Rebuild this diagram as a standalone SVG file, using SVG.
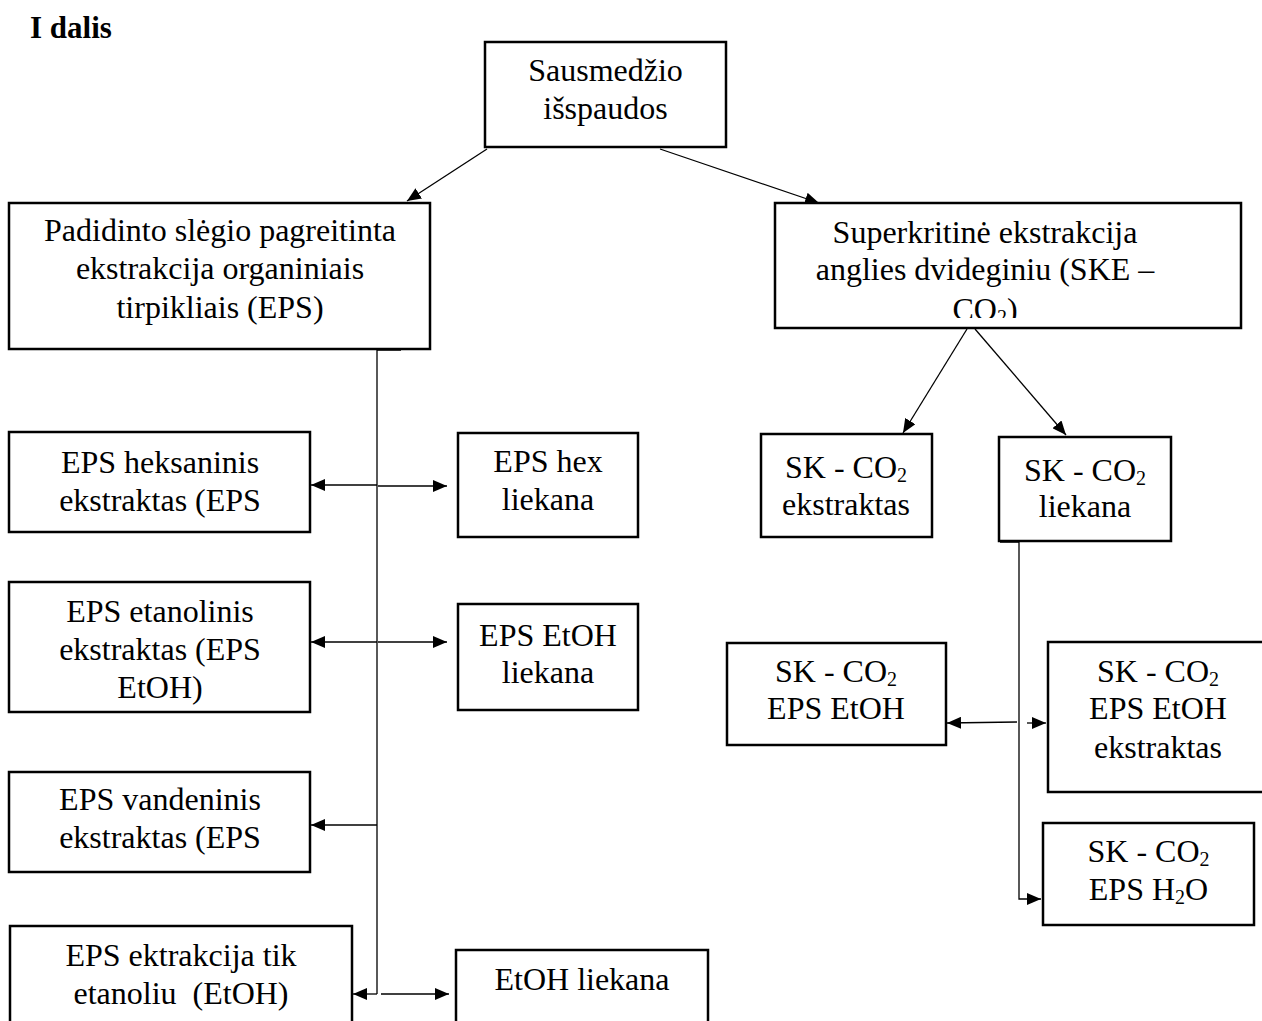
<svg xmlns="http://www.w3.org/2000/svg" width="1262" height="1021" viewBox="0 0 1262 1021">
<defs>
<style>
.box{fill:#fff;stroke:#000;stroke-width:2.5}
.t{font-family:"Liberation Serif","Times New Roman",serif;font-size:32px;text-anchor:middle;fill:#000}
.title{font-family:"Liberation Serif","Times New Roman",serif;font-size:31px;font-weight:bold;fill:#000}
.c{fill:none;stroke:#000;stroke-width:1.3}
.sub{font-size:20px}
</style>
<marker id="ah" viewBox="0 0 14 12" markerWidth="14" markerHeight="12" refX="14" refY="6" orient="auto" markerUnits="userSpaceOnUse">
<path d="M0,0 L14,6 L0,12 z" fill="#000"/>
</marker>
<clipPath id="skeclip"><rect x="776" y="204" width="465" height="114"/></clipPath>
</defs>
<rect width="1262" height="1021" fill="#fff"/>
<text class="title" x="30" y="38">I dalis</text>

<g id="connectors">
<line class="c" x1="487" y1="149" x2="407" y2="201" marker-end="url(#ah)"/>
<line class="c" x1="660" y1="149" x2="819" y2="203" marker-end="url(#ah)"/>
<line class="c" x1="967" y1="329" x2="903" y2="433" marker-end="url(#ah)"/>
<line class="c" x1="975" y1="329" x2="1066" y2="435" marker-end="url(#ah)"/>
<polyline class="c" points="401,350 377,350 377,994"/>
<line class="c" x1="377" y1="485" x2="311" y2="485" marker-end="url(#ah)"/>
<line class="c" x1="378" y1="486" x2="447" y2="486" marker-end="url(#ah)"/>
<line class="c" x1="377" y1="642" x2="311" y2="642" marker-end="url(#ah)"/>
<line class="c" x1="378" y1="642" x2="447" y2="642" marker-end="url(#ah)"/>
<line class="c" x1="377" y1="825" x2="311" y2="825" marker-end="url(#ah)"/>
<line class="c" x1="377" y1="994" x2="353" y2="994" marker-end="url(#ah)"/>
<line class="c" x1="381" y1="994" x2="449" y2="994" marker-end="url(#ah)"/>
<polyline class="c" points="1000,542 1019,542 1019,899 1041,899" marker-end="url(#ah)"/>
<line class="c" x1="1017" y1="722" x2="947" y2="723" marker-end="url(#ah)"/>
<line class="c" x1="1027" y1="723" x2="1046" y2="723" marker-end="url(#ah)"/>
</g>

<g id="n-sausmedzio">
<rect class="box" x="485" y="42" width="241" height="105"/>
<text class="t" x="605.5" y="81">Sausmedžio</text>
<text class="t" x="605.5" y="119">išspaudos</text>
</g>

<g id="n-eps">
<rect class="box" x="9" y="203" width="421" height="146"/>
<text class="t" x="220" y="241">Padidinto slėgio pagreitinta</text>
<text class="t" x="220" y="279">ekstrakcija organiniais</text>
<text class="t" x="220" y="318">tirpikliais (EPS)</text>
</g>

<g id="n-ske">
<rect class="box" x="775" y="203" width="466" height="125"/>
<g clip-path="url(#skeclip)">
<text class="t" x="985" y="243">Superkritinė ekstrakcija</text>
<text class="t" x="985" y="280">anglies dvideginiu (SKE –</text>
<text class="t" x="985" y="320">CO<tspan class="sub" dy="4">2</tspan><tspan dy="-4">)</tspan></text>
</g>
</g>

<g id="n-hex">
<rect class="box" x="9" y="432" width="301" height="100"/>
<text class="t" x="160" y="473">EPS heksaninis</text>
<text class="t" x="160" y="511">ekstraktas (EPS</text>
</g>

<g id="n-hex-liekana">
<rect class="box" x="458" y="433" width="180" height="104"/>
<text class="t" x="548" y="472">EPS hex</text>
<text class="t" x="548" y="510">liekana</text>
</g>

<g id="n-etoh">
<rect class="box" x="9" y="582" width="301" height="130"/>
<text class="t" x="160" y="622">EPS etanolinis</text>
<text class="t" x="160" y="660">ekstraktas (EPS</text>
<text class="t" x="160" y="698">EtOH)</text>
</g>

<g id="n-etoh-liekana">
<rect class="box" x="458" y="604" width="180" height="106"/>
<text class="t" x="548" y="646">EPS EtOH</text>
<text class="t" x="548" y="683">liekana</text>
</g>

<g id="n-vand">
<rect class="box" x="9" y="772" width="301" height="100"/>
<text class="t" x="160" y="810">EPS vandeninis</text>
<text class="t" x="160" y="848">ekstraktas (EPS</text>
</g>

<g id="n-tik-etoh">
<rect class="box" x="10" y="926" width="342" height="110"/>
<text class="t" x="181" y="966">EPS ektrakcija tik</text>
<text class="t" x="181" y="1004" xml:space="preserve">etanoliu  (EtOH)</text>
</g>

<g id="n-etoh-liekana2">
<rect class="box" x="456" y="950" width="252" height="90"/>
<text class="t" x="582" y="990">EtOH liekana</text>
</g>

<g id="n-sk-ekstraktas">
<rect class="box" x="761" y="434" width="171" height="103"/>
<text class="t" x="846" y="478">SK - CO<tspan class="sub" dy="4">2</tspan></text>
<text class="t" x="846" y="515">ekstraktas</text>
</g>

<g id="n-sk-liekana">
<rect class="box" x="999" y="437" width="172" height="104"/>
<text class="t" x="1085" y="481">SK - CO<tspan class="sub" dy="4">2</tspan></text>
<text class="t" x="1085" y="517">liekana</text>
</g>

<g id="n-sk-eps-etoh">
<rect class="box" x="727" y="643" width="219" height="102"/>
<text class="t" x="836" y="682">SK - CO<tspan class="sub" dy="4">2</tspan></text>
<text class="t" x="836" y="719">EPS EtOH</text>
</g>

<g id="n-sk-eps-etoh-ekstraktas">
<rect class="box" x="1048" y="642" width="220" height="150"/>
<text class="t" x="1158" y="682">SK - CO<tspan class="sub" dy="4">2</tspan></text>
<text class="t" x="1158" y="719">EPS EtOH</text>
<text class="t" x="1158" y="758">ekstraktas</text>
</g>

<g id="n-sk-eps-h2o">
<rect class="box" x="1043" y="823" width="211" height="102"/>
<text class="t" x="1148.5" y="862">SK - CO<tspan class="sub" dy="4">2</tspan></text>
<text class="t" x="1148.5" y="900">EPS H<tspan class="sub" dy="4">2</tspan><tspan dy="-4">O</tspan></text>
</g>
</svg>
